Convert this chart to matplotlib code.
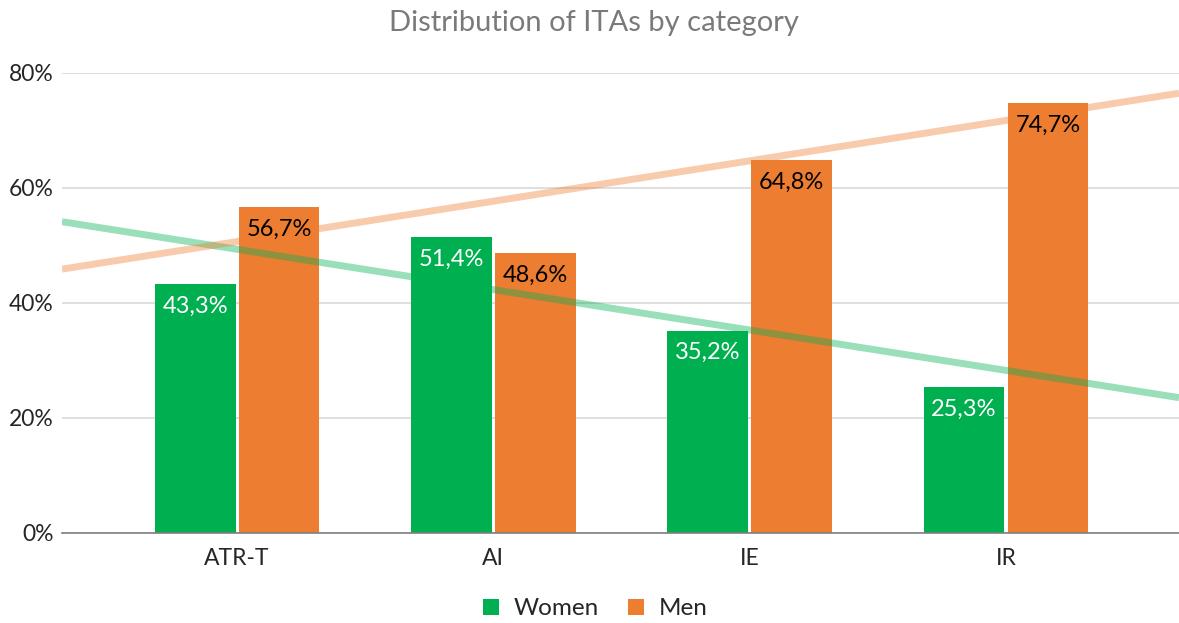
import numpy as np
import matplotlib.pyplot as plt

categories = ['ATR-T', 'AI', 'IE', 'IR']
women = [43.3, 51.4, 35.2, 25.3]
men = [56.7, 48.6, 64.8, 74.7]

green = '#00b050'
orange = '#ed7d31'

plt.rcParams['font.family'] = ['Lato', 'DejaVu Sans']

fig = plt.figure(figsize=(11.79, 6.23), dpi=100)
ax = fig.add_axes([0.0526, 0.1445, 0.9474, 0.7385])

x = np.arange(1, len(categories) + 1)
w = 0.315
gap = 0.006
b1 = ax.bar(x - w / 2 - gap, women, w, color=green, label='Women', zorder=2)
b2 = ax.bar(x + w / 2 + gap, men, w, color=orange, label='Men', zorder=2)

for rect, v in zip(b1, women):
    ax.text(rect.get_x() + rect.get_width() / 2, v - 2.0, f'{v:.1f}%'.replace('.', ','),
            ha='center', va='top', color='white', fontsize=17, zorder=4)
for rect, v in zip(b2, men):
    ax.text(rect.get_x() + rect.get_width() / 2, v - 2.0, f'{v:.1f}%'.replace('.', ','),
            ha='center', va='top', color='black', fontsize=17, zorder=4)

# linear trendlines
xl = (0.317, 4.675)
xs = np.array(xl)
for vals, c in [(women, green), (men, orange)]:
    k, b = np.polyfit(x, vals, 1)
    ax.plot(xs, k * xs + b, color=c, lw=5, alpha=0.4, solid_capstyle='butt', zorder=3)

ax.set_xlim(*xl)
ax.set_ylim(0, 80)
ax.set_yticks([0, 20, 40, 60, 80])
ax.set_yticklabels([f'{t}%' for t in [0, 20, 40, 60, 80]])
ax.set_xticks(x)
ax.set_xticklabels(categories)
ax.tick_params(axis='both', length=0, labelsize=16.5, colors='#262626')
ax.tick_params(axis='y', pad=6)
ax.tick_params(axis='x', pad=11)
ax.yaxis.grid(True, color='#d9d9d9', lw=1.2, zorder=0)
ax.set_axisbelow(True)
for s in ['top', 'right', 'left']:
    ax.spines[s].set_visible(False)
ax.spines['bottom'].set_color('#7f7f7f')
ax.spines['bottom'].set_linewidth(1.2)

fig.text(0.504, 0.963, 'Distribution of ITAs by category', ha='center', va='center',
         fontsize=21, color='#7a7a7a')

fig.legend(handles=[b1, b2], labels=['Women', 'Men'], loc='center', bbox_to_anchor=(0.505, 0.023),
           ncol=2, frameon=False, fontsize=17.5, handlelength=0.65, handleheight=0.65,
           handletextpad=0.6, columnspacing=1.2, labelcolor='#262626')

fig.savefig('out.png', dpi=100)
